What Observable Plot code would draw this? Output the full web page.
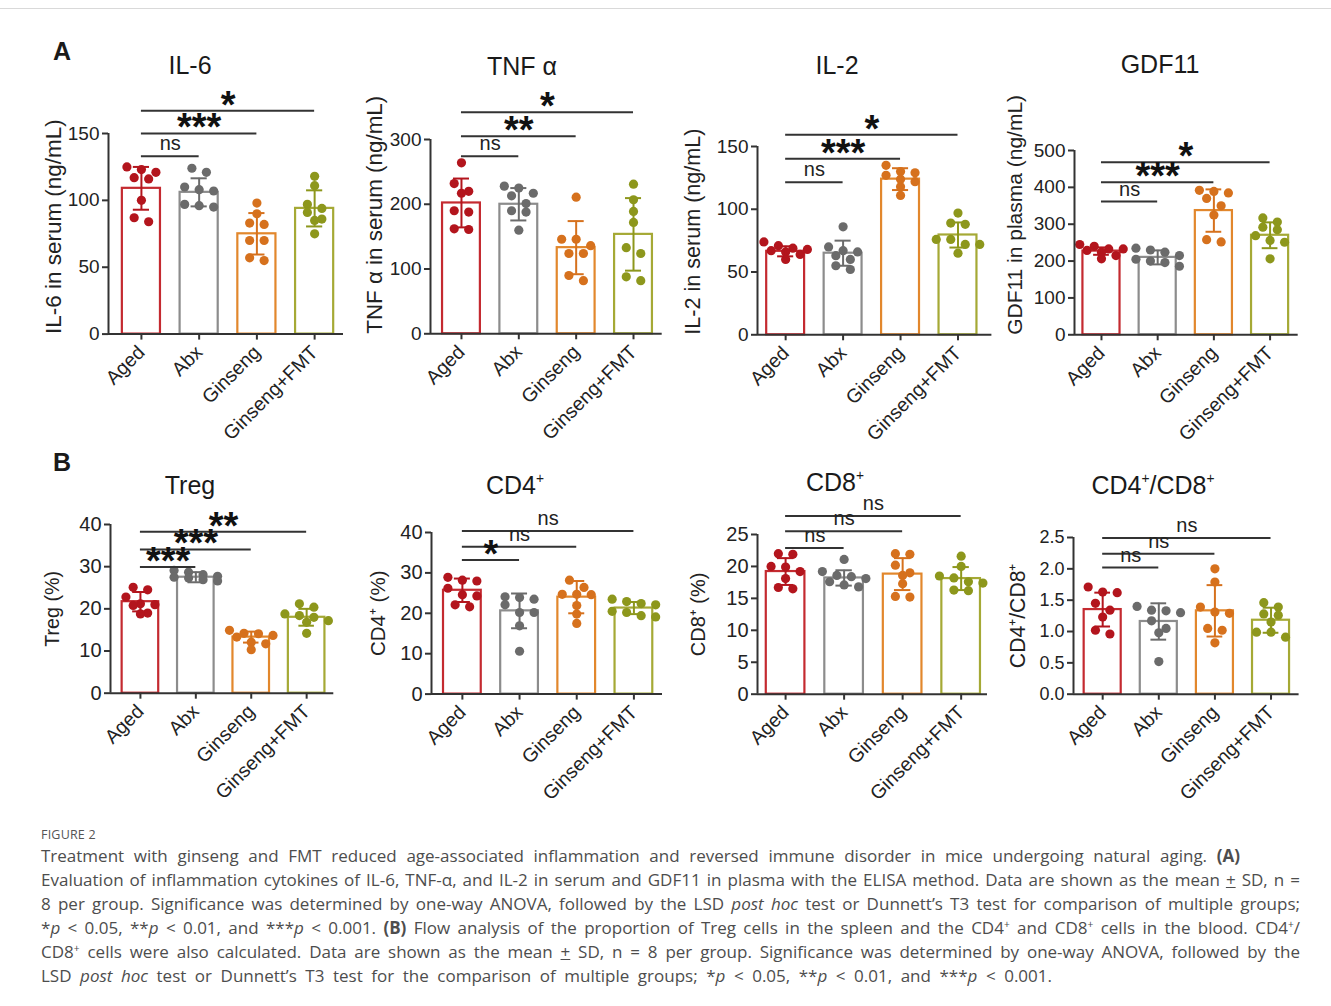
<!DOCTYPE html>
<html>
<head>
<meta charset="utf-8">
<script src="https://cdn.jsdelivr.net/npm/d3@7"></script>
<script src="https://cdn.jsdelivr.net/npm/@observablehq/plot@0.6"></script>
<style>
  body { margin: 0; background: #fff; }
  #page { position: relative; width: 1331px; height: 1006px; overflow: hidden; font-family: "Liberation Sans", Arial, sans-serif; color: #1a1a1a; }
  .topline { position: absolute; left: 0; top: 8px; width: 1331px; border-top: 1px solid #d9d9d9; }
  .letter { position: absolute; font-weight: bold; font-size: 25px; line-height: 1; transform: translate(-50%, -50%); }
  .title { position: absolute; font-size: 25px; line-height: 1; white-space: nowrap; transform: translate(-50%, -50%); }
  .title sup { font-size: 0.55em; vertical-align: 0.75em; line-height: 0; }
  .plot { position: absolute; }
  #caption { position: absolute; left: 41px; top: 826px; font-family: "Open Sans", "Noto Sans", sans-serif; color: #4d4d4d; }
  #caption .fig { font-size: 12.5px; letter-spacing: 0.2px; line-height: 18px; color: #555; }
  #caption .ln { display: block; font-size: 17px; line-height: 24px; height: 24px; white-space: nowrap; text-align: justify; text-align-last: justify; }
  #caption .ln.w1 { width: 1199px; }
  #caption .ln.w2 { width: 1259px; }
  #caption .ln.w3 { width: 1011px; }
  #caption sup { font-size: 0.6em; line-height: 0; vertical-align: 0.6em; }
</style>
</head>
<body>
<div id="page">
  <div class="topline"></div>
  <div class="letter" style="left:62px;top:51px">A</div>
  <div class="letter" style="left:62px;top:462px">B</div>
  <div id="caption">
    <div class="fig">FIGURE 2</div>
    <span class="ln w1">Treatment with ginseng and FMT reduced age-associated inflammation and reversed immune disorder in mice undergoing natural aging. <b>(A)</b></span>
    <span class="ln w2">Evaluation of inflammation cytokines of IL-6, TNF-α, and IL-2 in serum and GDF11 in plasma with the ELISA method. Data are shown as the mean <u>+</u> SD, n =</span>
    <span class="ln w2">8 per group. Significance was determined by one-way ANOVA, followed by the LSD <i>post hoc</i> test or Dunnett’s T3 test for comparison of multiple groups;</span>
    <span class="ln w2">*<i>p</i> &lt; 0.05, **<i>p</i> &lt; 0.01, and ***<i>p</i> &lt; 0.001. <b>(B)</b> Flow analysis of the proportion of Treg cells in the spleen and the CD4<sup>+</sup> and CD8<sup>+</sup> cells in the blood. CD4<sup>+</sup>/</span>
    <span class="ln w2">CD8<sup>+</sup> cells were also calculated. Data are shown as the mean <u>+</u> SD, n = 8 per group. Significance was determined by one-way ANOVA, followed by the</span>
    <span class="ln w3">LSD <i>post hoc</i> test or Dunnett’s T3 test for the comparison of multiple groups; *<i>p</i> &lt; 0.05, **<i>p</i> &lt; 0.01, and ***<i>p</i> &lt; 0.001.</span>
  </div>
</div>
<script>
// ---------------- DATA ----------------
const groups = ["Aged", "Abx", "Ginseng", "Ginseng+FMT"];
const sigTargets = ["Abx", "Ginseng", "Ginseng+FMT"];

// IL-6 (ng/mL)
const il6Points = [[125, 123, 121, 117, 116, 100, 87, 84], [124, 121, 110, 108, 107, 97, 96, 95], [98, 90, 83, 82, 70, 70, 57, 55], [118, 111, 97, 94, 91, 86, 85, 75]];
const il6Mean = [109, 106, 75, 94];
const il6SD = [16, 10.5, 15.5, 13.5];
const il6Ticks = [0, 50, 100, 150];
const il6SigLabels = ["ns", "***", "*"];
const il6SigLevels = [133, 150, 167];

// TNF α (ng/mL)
const tnfPoints = [[264, 232, 220, 217, 190, 188, 162, 161], [228, 225, 217, 213, 201, 190, 188, 160], [211, 146, 146, 136, 124, 124, 90, 82], [231, 207, 189, 172, 133, 124, 88, 82]];
const tnfMean = [202, 200, 133, 153.5];
const tnfSD = [37.7, 25, 41, 56];
const tnfTicks = [0, 100, 200, 300];
const tnfSigLabels = ["ns", "**", "*"];
const tnfSigLevels = [274, 305, 342];

// IL-2 (ng/mL)
const il2Points = [[74, 71, 69, 68, 67, 66, 64, 60], [86, 70, 67, 66, 63, 60, 55, 52], [135, 130, 129, 127, 124, 122, 118, 111], [97, 89, 88, 76, 76, 72, 72, 65]];
const il2Mean = [66.5, 65, 124, 79.5];
const il2SD = [4, 10, 8.7, 10];
const il2Ticks = [0, 50, 100, 150];
const il2SigLabels = ["ns", "***", "*"];
const il2SigLevels = [121.6, 140.2, 159.4];

// GDF11 (ng/mL)
const gdfPoints = [[245, 240, 233, 233, 229, 224, 215, 206], [235, 230, 224, 215, 205, 200, 196, 186], [392, 389, 385, 370, 350, 325, 258, 252], [317, 306, 292, 285, 269, 256, 251, 206]];
const gdfMean = [227, 210, 337, 270];
const gdfSD = [10, 19, 57.5, 35];
const gdfTicks = [0, 100, 200, 300, 400, 500];
const gdfSigLabels = ["ns", "***", "*"];
const gdfSigLevels = [361.5, 414, 468];

// Treg (%)
const tregPoints = [[25.1, 24.5, 22.8, 21.2, 21, 20.8, 19, 18.8], [29.1, 28.7, 28.1, 27.7, 27.5, 27.3, 26.9, 26.6], [14.9, 14.2, 14.1, 13.7, 13.3, 12.1, 11.7, 10.3], [21.2, 20.4, 18.8, 18.4, 18, 17.2, 16.8, 14.2]];
const tregMean = [21.7, 27.5, 13.3, 18];
const tregSD = [2.3, 1.2, 1.3, 2];
const tregTicks = [0, 10, 20, 30, 40];
const tregSigLabels = ["***", "***", "**"];
const tregSigLevels = [29.9, 34.1, 38.3];

// CD4+ (%)
const cd4Points = [[28.9, 28.2, 28, 26.2, 24.6, 24.3, 22.1, 21.6], [24.1, 23.9, 23.5, 22.1, 20.2, 20.2, 16.9, 10.6], [28.2, 26.4, 24.7, 24.7, 24.6, 21.9, 19.8, 17.5], [23.5, 22.9, 22.4, 22.1, 20.5, 20.2, 19.4, 19.1]];
const cd4Mean = [25.7, 20.6, 24, 21.3];
const cd4SD = [2.9, 4.3, 4, 1.5];
const cd4Ticks = [0, 10, 20, 30, 40];
const cd4SigLabels = ["*", "ns", "ns"];
const cd4SigLevels = [33.2, 36.5, 40.4];

// CD8+ (%)
const cd8Points = [[22, 21.9, 20, 19.9, 19.2, 18.1, 16.7, 16.5], [21.1, 19.2, 18.6, 18.4, 18.1, 17.6, 17.1, 16.8], [22, 21.9, 20.2, 19, 18.6, 17.3, 15.3, 15.2], [21.6, 20, 18.5, 18.2, 17.6, 17.4, 16.3, 16.2]];
const cd8Mean = [19.2, 18.2, 18.8, 18.1];
const cd8SD = [2.1, 1.2, 2.5, 1.8];
const cd8Ticks = [0, 5, 10, 15, 20, 25];
const cd8SigLabels = ["ns", "ns", "ns"];
const cd8SigLevels = [22.9, 25.5, 27.9];

// CD4+/CD8+
const ratioPoints = [[1.71, 1.63, 1.62, 1.45, 1.34, 1.23, 1.02, 0.96], [1.40, 1.34, 1.33, 1.30, 1.17, 1.05, 0.98, 0.52], [2.0, 1.79, 1.39, 1.31, 1.29, 1.05, 1.02, 0.82], [1.46, 1.39, 1.28, 1.26, 1.15, 0.99, 0.99, 0.91]];
const ratioMean = [1.35, 1.16, 1.33, 1.18];
const ratioSD = [0.27, 0.29, 0.41, 0.2];
const ratioTicks = [0, 0.5, 1, 1.5, 2, 2.5];
const ratioSigLabels = ["ns", "ns", "ns"];
const ratioSigLevels = [2.02, 2.24, 2.49];

// ---------------- STYLE / LAYOUT ----------------
const dotColors = ["#b3151d", "#6b6b6b", "#d6711d", "#8d971c"];
const barColors = ["#c42a30", "#8c8c8c", "#e2872c", "#a5a935"];
const axisColor = "#333";

const panels = [
  {title: "IL-6", yLabel: "IL-6 in serum (ng/mL)", pts: il6Points, mean: il6Mean, sd: il6SD, ticks: il6Ticks, sigL: il6SigLabels, sigY: il6SigLevels,
   frame: [108, 343, 132.7, 333.3], xd: [-0.57, 3.5], labelMode: "bottom", labelGap: 55, labelSize: 22.5, tickSize: 19, titleAt: [190, 65]},
  {title: "TNF α", yLabel: "TNF α in serum (ng/mL)", pts: tnfPoints, mean: tnfMean, sd: tnfSD, ticks: tnfTicks, sigL: tnfSigLabels, sigY: tnfSigLevels,
   frame: [430, 661.7, 139, 333.3], xd: [-0.54, 3.5], labelMode: "bottom", labelGap: 56, labelSize: 22.4, tickSize: 19, titleAt: [522, 66]},
  {title: "IL-2", yLabel: "IL-2 in serum (ng/mL)", pts: il2Points, mean: il2Mean, sd: il2SD, ticks: il2Ticks, sigL: il2SigLabels, sigY: il2SigLevels,
   frame: [757.3, 991.7, 146, 334.3], xd: [-0.49, 3.59], labelMode: "bottom", labelGap: 64, labelSize: 21.6, tickSize: 19, titleAt: [837, 65]},
  {title: "GDF11", yLabel: "GDF11 in plasma (ng/mL)", pts: gdfPoints, mean: gdfMean, sd: gdfSD, ticks: gdfTicks, sigL: gdfSigLabels, sigY: gdfSigLevels,
   frame: [1074, 1297.7, 150, 334.3], xd: [-0.48, 3.5], labelMode: "bottom", labelGap: 59, labelSize: 21, tickSize: 19, titleAt: [1160, 64]},
  {title: "Treg", yLabel: "Treg (%)", pts: tregPoints, mean: tregMean, sd: tregSD, ticks: tregTicks, sigL: tregSigLabels, sigY: tregSigLevels,
   frame: [110, 333.3, 524, 692.7], xd: [-0.54, 3.49], labelMode: "center", labelGap: 58, labelSize: 19.7, tickSize: 20, titleAt: [190, 485]},
  {title: "CD4<sup>+</sup>", yLabel: "CD4⁺ (%)", pts: cd4Points, mean: cd4Mean, sd: cd4SD, ticks: cd4Ticks, sigL: cd4SigLabels, sigY: cd4SigLevels,
   frame: [430.7, 661.7, 531.7, 693.3], xd: [-0.54, 3.5], labelMode: "center", labelGap: 53, labelSize: 20.5, tickSize: 20, titleAt: [515, 485]},
  {title: "CD8<sup>+</sup>", yLabel: "CD8⁺ (%)", pts: cd8Points, mean: cd8Mean, sd: cd8SD, ticks: cd8Ticks, sigL: cd8SigLabels, sigY: cd8SigLevels,
   frame: [757.3, 987.3, 534.3, 694], xd: [-0.48, 3.45], labelMode: "center", labelGap: 59, labelSize: 20, tickSize: 20, titleAt: [835, 482]},
  {title: "CD4<sup>+</sup>/CD8<sup>+</sup>", yLabel: "CD4⁺/CD8⁺", pts: ratioPoints, mean: ratioMean, sd: ratioSD, ticks: ratioTicks, sigL: ratioSigLabels, sigY: ratioSigLevels,
   frame: [1072.7, 1298.3, 537.3, 694], xd: [-0.52, 3.5], labelMode: "center", labelGap: 55, labelSize: 21.2, tickSize: 18, titleAt: [1153, 485], tickFormat: ".1f"}
];

const ML = 80, MR = 12, MT = 90, MB = 120;
const halfBar = 0.33, capHalf = 0.14;

// deterministic scatter layout: dots at nearly equal height share a row, centred on the group
function layoutDots(vals, gi, pxPerUnit, stepPx) {
  const spacing = 14.5 / stepPx;
  const order = vals.map((v, k) => k).sort((a, b) => vals[b] - vals[a]);
  const rows = [];
  for (const k of order) {
    const row = rows[rows.length - 1];
    if (row && row.length < 4 && (vals[row[0]] - vals[k]) * pxPerUnit < 8) row.push(k);
    else rows.push([k]);
  }
  const out = [];
  for (const row of rows) row.forEach((k, j) => out.push({g: gi, value: vals[k], x: gi + (j - (row.length - 1) / 2) * spacing}));
  return out;
}

const page = document.getElementById("page");

for (const p of panels) {
  const [fl, fr, ft, fb] = p.frame;
  const fw = fr - fl, fh = fb - ft;
  const ymax = p.ticks[p.ticks.length - 1];
  const pxPerUnit = fh / ymax;
  const stepPx = fw / (p.xd[1] - p.xd[0]);

  const stats = groups.map((g, i) => ({i, g, mean: p.mean[i], sd: p.sd[i]}));
  const points = p.pts.flatMap((vals, gi) => layoutDots(vals, gi, pxPerUnit, stepPx));
  const sig = p.sigL.map((label, k) => ({label, level: p.sigY[k], x1: groups.indexOf("Aged"), x2: groups.indexOf(sigTargets[k])}));

  const chart = Plot.plot({
    width: ML + fw + MR,
    height: MT + fh + MB,
    marginLeft: ML, marginRight: MR, marginTop: MT, marginBottom: MB,
    x: {type: "linear", domain: p.xd, axis: null},
    y: {domain: [0, ymax], axis: null},
    style: {fontFamily: "'Liberation Sans', Arial, sans-serif", fontSize: "17px", color: axisColor, background: "none", overflow: "visible"},
    marks: [
      Plot.rectY(stats, {x1: d => d.i - halfBar, x2: d => d.i + halfBar, y1: 0, y2: "mean", fill: "white", stroke: d => barColors[d.i], strokeWidth: 2.2}),
      Plot.dot(points, {x: "x", y: "value", r: 4.6, fill: d => dotColors[d.g], stroke: "none"}),
      Plot.ruleX(stats, {x: "i", y1: d => d.mean - d.sd, y2: d => d.mean + d.sd, stroke: d => dotColors[d.i], strokeWidth: 2}),
      Plot.ruleY(stats, {y: d => d.mean + d.sd, x1: d => d.i - capHalf, x2: d => d.i + capHalf, stroke: d => dotColors[d.i], strokeWidth: 2}),
      Plot.ruleY(stats, {y: d => d.mean - d.sd, x1: d => d.i - capHalf, x2: d => d.i + capHalf, stroke: d => dotColors[d.i], strokeWidth: 2}),
      Plot.ruleY([0], {stroke: axisColor, strokeWidth: 2}),
      Plot.ruleX([p.xd[0]], {y1: 0, y2: ymax, stroke: axisColor, strokeWidth: 2}),
      Plot.axisY({ticks: p.ticks, tickSize: 6, tickPadding: 3, strokeWidth: 2, stroke: axisColor, fill: "#222", fontSize: p.tickSize,
                  tickFormat: p.tickFormat ? d3.format(p.tickFormat) : d3.format("d"), label: null}),
      Plot.axisX({ticks: groups.map((g, i) => i), tickFormat: i => groups[i], tickRotate: -45, tickSize: 6, tickPadding: 9,
                  strokeWidth: 2, stroke: axisColor, fill: "#222", fontSize: 19.5, label: null}),
      Plot.ruleY(sig, {y: "level", x1: "x1", x2: "x2", stroke: axisColor, strokeWidth: 2}),
      Plot.text(sig.filter(d => d.label === "ns"), {x: d => (d.x1 + d.x2) / 2, y: "level", text: "label", lineAnchor: "bottom", dy: -6, fontSize: 20, fill: "#222"}),
      Plot.text(sig.filter(d => d.label !== "ns"), {x: d => (d.x1 + d.x2) / 2, y: "level", text: "label", lineAnchor: "bottom", dy: 7, fontSize: 38, fontWeight: "bold", fill: "#111"}),
      Plot.text([p.yLabel], {frameAnchor: p.labelMode === "bottom" ? "bottom-left" : "left", rotate: -90,
                  textAnchor: p.labelMode === "bottom" ? "start" : "middle", lineAnchor: "middle", dx: -p.labelGap, fontSize: p.labelSize, fill: "#222"})
    ]
  });
  chart.classList.add("plot");
  chart.style.left = (fl - ML) + "px";
  chart.style.top = (ft - MT) + "px";
  page.appendChild(chart);

  const t = document.createElement("div");
  t.className = "title";
  t.innerHTML = p.title;
  t.style.left = p.titleAt[0] + "px";
  t.style.top = p.titleAt[1] + "px";
  page.appendChild(t);
}
</script>
</body>
</html>
